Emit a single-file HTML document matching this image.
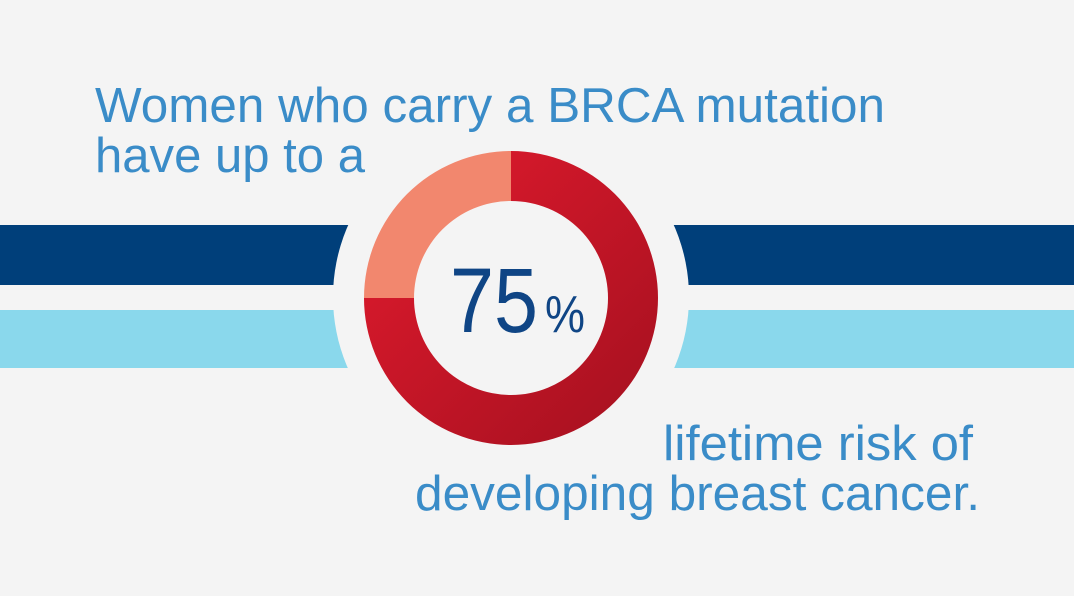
<!DOCTYPE html>
<html><head><meta charset="utf-8"><style>
html,body{margin:0;padding:0;background:#f4f4f4;}
svg{display:block;}
text{font-family:"Liberation Sans",sans-serif;}
</style></head><body>
<svg id="chart" width="1074" height="596" viewBox="0 0 1074 596">
<defs>
<linearGradient id="redGrad" x1="0" y1="0" x2="1" y2="1">
<stop offset="0" stop-color="#e31b2e"/><stop offset="1" stop-color="#a3101f"/>
</linearGradient>
</defs>
<rect x="0" y="0" width="1074" height="596" fill="#f4f4f4"/>
<rect x="0" y="225" width="1074" height="60" fill="#003f7a"/>
<rect x="0" y="310" width="1074" height="58" fill="#8ad8ec"/>
<circle cx="511" cy="297" r="178" fill="#f4f4f4"/>
<g id="donut"></g>
<text x="95" y="122" font-size="49" fill="#3a8cc8" textLength="790" lengthAdjust="spacingAndGlyphs">Women who carry a BRCA mutation</text>
<text x="95" y="172" font-size="49" fill="#3a8cc8" textLength="270" lengthAdjust="spacingAndGlyphs">have up to a</text>
<text x="663" y="460" font-size="49" fill="#3a8cc8" textLength="310" lengthAdjust="spacingAndGlyphs">lifetime risk of</text>
<text x="415" y="510" font-size="49" fill="#3a8cc8" textLength="565" lengthAdjust="spacingAndGlyphs">developing breast cancer.</text>
</svg>
<script>
const percentValues = [75];
const percentLabels = ["75"];
const cx = 511, cy = 298, rOut = 147, rIn = 97;
const g = document.getElementById('donut');
const ns = 'http://www.w3.org/2000/svg';
function pt(r, frac){ const a = frac*2*Math.PI - Math.PI/2; return [cx + r*Math.cos(a), cy + r*Math.sin(a)]; }
function arc(f0, f1){
  const large = (f1-f0) > 0.5 ? 1 : 0;
  const [x0,y0]=pt(rOut,f0),[x1,y1]=pt(rOut,f1),[x2,y2]=pt(rIn,f1),[x3,y3]=pt(rIn,f0);
  return `M${x0},${y0}A${rOut},${rOut} 0 ${large} 1 ${x1},${y1}L${x2},${y2}A${rIn},${rIn} 0 ${large} 0 ${x3},${y3}Z`;
}
const v = percentValues[0]/100;
const p1 = document.createElementNS(ns,'path');
p1.setAttribute('d', arc(0, v));
p1.setAttribute('fill', 'url(#redGrad)');


g.appendChild(p1);
const p2 = document.createElementNS(ns,'path');
p2.setAttribute('d', arc(v, 1));
p2.setAttribute('fill', '#f2876e');


g.appendChild(p2);
const t = document.createElementNS(ns,'text');
t.setAttribute('x', 450); t.setAttribute('y', 332);
t.setAttribute('fill', '#0f4585');
t.setAttribute('font-size', '92');
t.setAttribute('textLength', '88');
t.setAttribute('lengthAdjust', 'spacingAndGlyphs');


t.textContent = percentLabels[0];
g.appendChild(t);
const t2 = document.createElementNS(ns,'text');
t2.setAttribute('x', 545); t2.setAttribute('y', 332);
t2.setAttribute('fill', '#0f4585');
t2.setAttribute('font-size', '52');
t2.setAttribute('textLength', '40');
t2.setAttribute('lengthAdjust', 'spacingAndGlyphs');


t2.textContent = '%';
g.appendChild(t2);
</script>
</body></html>
